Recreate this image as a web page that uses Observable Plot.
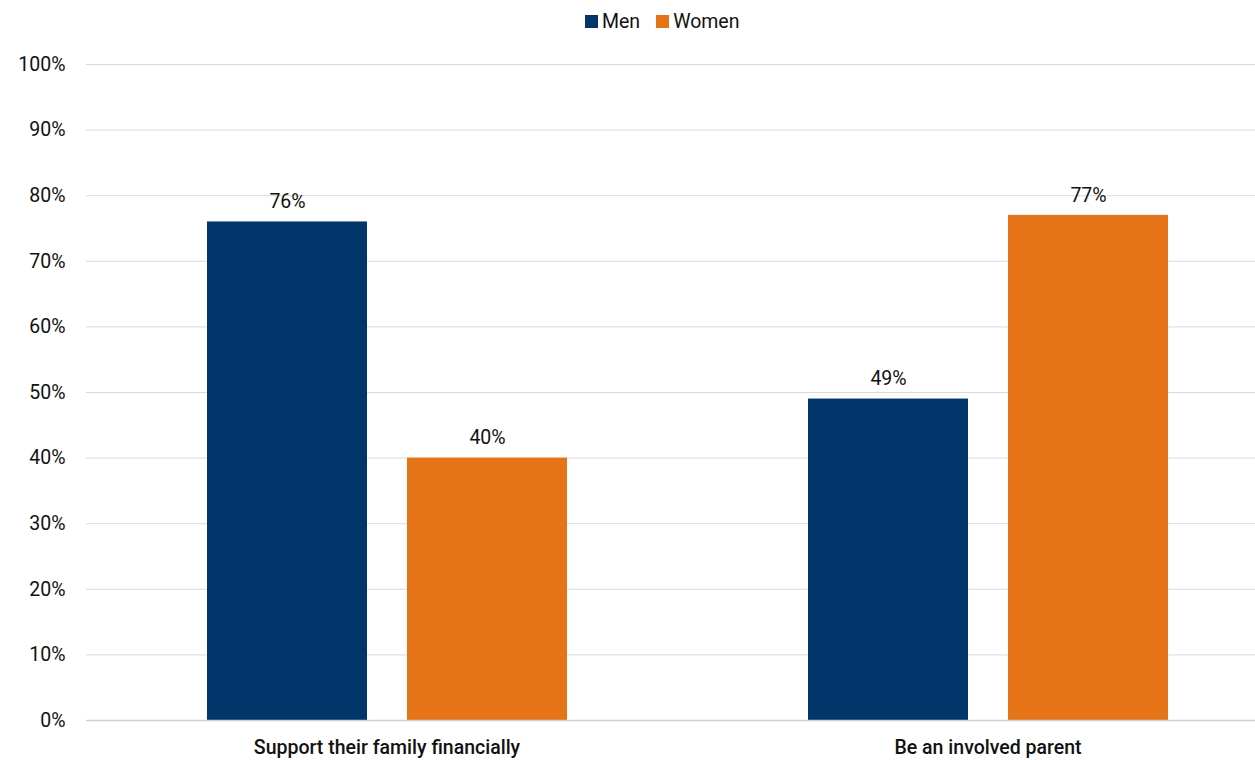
<!DOCTYPE html>
<html>
<head>
<meta charset="utf-8">
<script src="https://cdn.jsdelivr.net/npm/d3@7"></script>
<script src="https://cdn.jsdelivr.net/npm/@observablehq/plot@0.6"></script>
<style>
  html, body { margin: 0; padding: 0; background: #fff; overflow: hidden; }
  body { font-family: Roboto, "Noto Sans", sans-serif; }
  #legend { height: 42px; display: flex; align-items: center; padding-left: 585px; gap: 16px; font-size: 19.5px; color: #111; }
  #legend .item { display: flex; align-items: center; gap: 4px; }
  #legend .sw { width: 13px; height: 13px; display: inline-block; }
  #chart svg { overflow: hidden; }
</style>
</head>
<body>
<div id="legend"></div>
<div id="chart"></div>
<script>
// Share saying each is very important for a good partner/spouse to be able to do
const categories = ["Support their family financially", "Be an involved parent"];
const genders = ["Men", "Women"];
const menValues = [76, 49];
const womenValues = [40, 77];
const colors = ["#02366b", "#e57317"];
const yTicks = [0, 10, 20, 30, 40, 50, 60, 70, 80, 90, 100];

const rows = [];
categories.forEach((c, i) => {
  rows.push({category: c, gender: "Men", value: menValues[i]});
  rows.push({category: c, gender: "Women", value: womenValues[i]});
});

// Legend above the chart
const legend = document.getElementById("legend");
genders.forEach((g, i) => {
  const item = document.createElement("div");
  item.className = "item";
  const sw = document.createElement("span");
  sw.className = "sw";
  sw.style.background = colors[i];
  const label = document.createElement("span");
  label.textContent = g;
  item.append(sw, label);
  legend.append(item);
});

const chart = Plot.plot({
  width: 1255,
  height: 718,
  marginTop: 22,
  marginBottom: 40,
  marginLeft: 87,
  marginRight: 0,
  style: {fontFamily: "Roboto, sans-serif", fontSize: "19.5px", color: "#111", background: "#fff"},
  fx: {domain: categories, range: [86, 1288], padding: 0, label: null},
  x: {domain: genders, paddingInner: 0.2, paddingOuter: 0.6, axis: null},
  y: {domain: [0, 100], label: null},
  color: {domain: genders, range: colors},
  marks: [
    Plot.gridY(yTicks, {stroke: "#d9d9d9", strokeOpacity: 1, strokeWidth: 1}),
    Plot.axisY(yTicks, {tickSize: 0, tickPadding: 21, tickFormat: d => d + "%", label: null, fontSize: 19.5}),
    Plot.axisFx({anchor: "bottom", tickSize: 0, tickPadding: 20, label: null, fontSize: 19.5, fontWeight: 500}),
    Plot.barY(rows, {fx: "category", x: "gender", y: "value", fill: "gender"}),
    Plot.ruleY([0], {stroke: "#d0d0d0", strokeWidth: 1.5}),
    Plot.text(rows, {fx: "category", x: "gender", y: "value", text: d => d.value + "%", dy: -20, lineAnchor: "middle", fontSize: 19.5, fill: "#111"})
  ]
});
document.getElementById("chart").append(chart);
</script>
</body>
</html>
